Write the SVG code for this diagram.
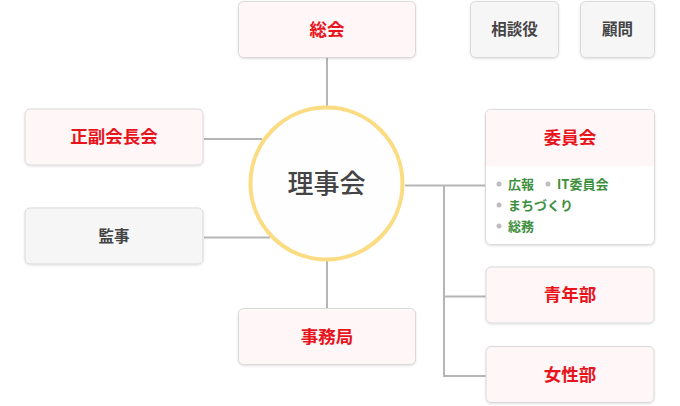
<svg xmlns="http://www.w3.org/2000/svg" width="680" height="406" viewBox="0 0 680 406">
<defs>
<filter id="sh" x="-10%" y="-10%" width="120%" height="130%">
<feDropShadow dx="0" dy="1" stdDeviation="1" flood-color="#000" flood-opacity="0.12"/>
</filter>
</defs>
<style>
.pink{fill:#fff6f7;stroke:#d9d9d9;stroke-width:1}
.gray{fill:#f6f6f6;stroke:#d9d9d9;stroke-width:1}
.white{fill:#ffffff;stroke:#d9d9d9;stroke-width:1}
.red{font-family:"Noto Sans CJK JP","Noto Sans CJK SC",sans-serif;font-weight:bold;font-size:17.5px;fill:#e8141c;text-anchor:middle}
.dk{font-family:"Noto Sans CJK JP","Noto Sans CJK SC",sans-serif;font-weight:bold;font-size:15.5px;fill:#444;text-anchor:middle}
.gr{font-family:"Noto Sans CJK JP","Noto Sans CJK SC",sans-serif;font-weight:bold;font-size:13px;fill:#3e8f3e}
.bul{fill:#bdbdbd}
.ln{stroke:#b5b5b5;stroke-width:2;fill:none}
</style>
<rect width="680" height="406" fill="#ffffff"/>
<g id="connectors">
<line class="ln" x1="327" y1="58" x2="327" y2="106"/>
<line class="ln" x1="327" y1="261" x2="327" y2="308"/>
<line class="ln" x1="204" y1="139" x2="262" y2="139"/>
<line class="ln" x1="204" y1="237.5" x2="270" y2="237.5"/>
<line class="ln" x1="405" y1="185.5" x2="486" y2="185.5"/>
<polyline class="ln" points="444,185.5 444,376 486,376"/>
<line class="ln" x1="444" y1="296.5" x2="486" y2="296.5"/>
</g>
<g id="soukai">
<rect class="pink" x="238.5" y="1.5" width="177" height="56" rx="5" filter="url(#sh)"/>
<text class="red" x="327" y="35.5">総会</text>
</g>
<g id="soudanyaku">
<rect class="gray" x="470.5" y="1.5" width="88" height="56" rx="5" filter="url(#sh)"/>
<text class="dk" x="514.5" y="35">相談役</text>
</g>
<g id="komon">
<rect class="gray" x="580.5" y="1.5" width="74" height="56" rx="5" filter="url(#sh)"/>
<text class="dk" x="617.5" y="35">顧問</text>
</g>
<g id="fukukaichou">
<rect class="pink" x="25" y="109" width="178" height="56" rx="5" filter="url(#sh)"/>
<text class="red" x="114" y="143">正副会長会</text>
</g>
<g id="kanji">
<rect class="gray" x="25" y="208" width="178" height="56" rx="5" filter="url(#sh)"/>
<text class="dk" x="114" y="242">監事</text>
</g>
<g id="rijikai">
<circle cx="326.5" cy="183.5" r="76" fill="#fefefe" stroke="#fbdc83" stroke-width="4"/>
<text x="326.5" y="193" font-family="'Noto Sans CJK JP','Noto Sans CJK SC',sans-serif" font-weight="500" font-size="26" fill="#444" text-anchor="middle">理事会</text>
</g>
<g id="jimukyoku">
<rect class="pink" x="238.5" y="308.5" width="177" height="56" rx="5" filter="url(#sh)"/>
<text class="red" x="327" y="342.5">事務局</text>
</g>
<g id="iinkai">
<rect class="white" x="485.5" y="109.5" width="169" height="135" rx="5" filter="url(#sh)"/>
<path d="M490,110.5 H650 Q654,110.5 654,114.5 V166 H486 V114.5 Q486,110.5 490,110.5 Z" fill="#fff6f7"/>
<text class="red" x="570" y="143.5">委員会</text>
<circle class="bul" cx="499" cy="184" r="2.5"/>
<text class="gr" x="508" y="189">広報</text>
<circle class="bul" cx="548" cy="184" r="2.5"/>
<text class="gr" x="557" y="189">IT委員会</text>
<circle class="bul" cx="499" cy="205" r="2.5"/>
<text class="gr" x="508" y="210">まちづくり</text>
<circle class="bul" cx="499" cy="226" r="2.5"/>
<text class="gr" x="508" y="231">総務</text>
</g>
<g id="seinenbu">
<rect class="pink" x="486" y="267" width="168" height="56" rx="5" filter="url(#sh)"/>
<text class="red" x="570" y="301">青年部</text>
</g>
<g id="joseibu">
<rect class="pink" x="486" y="346.5" width="168" height="56" rx="5" filter="url(#sh)"/>
<text class="red" x="570" y="380.5">女性部</text>
</g>
</svg>
